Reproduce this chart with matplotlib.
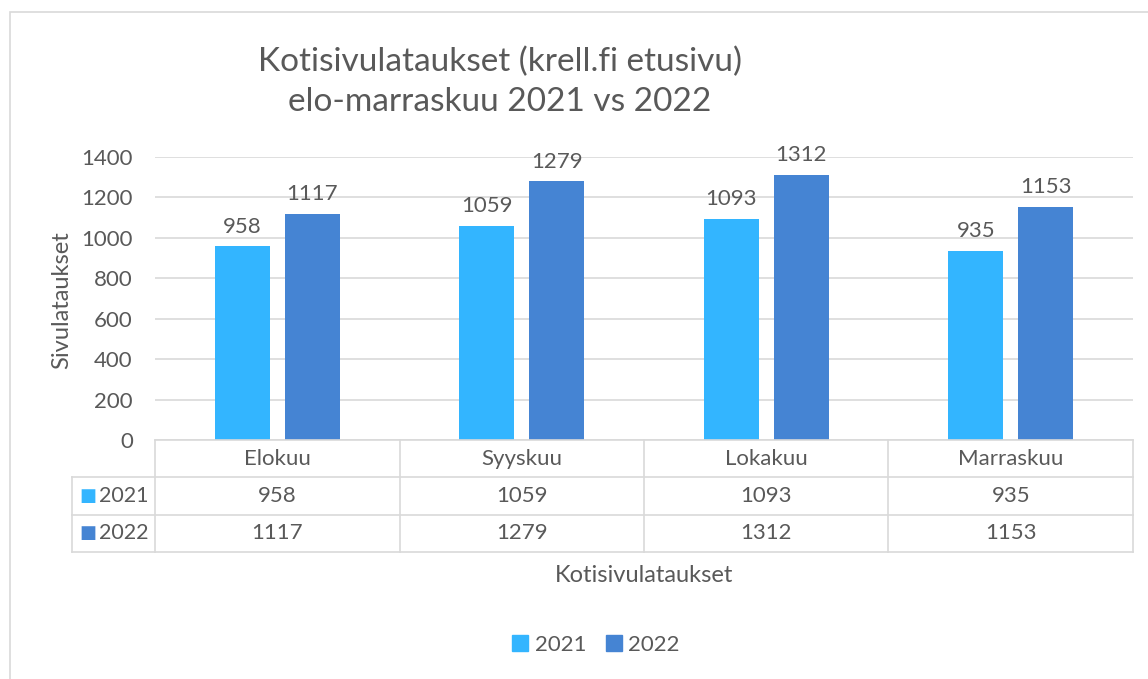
import matplotlib.pyplot as plt
from matplotlib.patches import Rectangle

plt.rcParams["font.family"] = ["Lato", "DejaVu Sans"]

months = ["Elokuu", "Syyskuu", "Lokakuu", "Marraskuu"]
years = ["2021", "2022"]
visits_2021 = [958, 1059, 1093, 935]
visits_2022 = [1117, 1279, 1312, 1153]
yticks = [0, 200, 400, 600, 800, 1000, 1200, 1400]

COLORS = ["#33B5FF", "#4584D3"]
TXT = "#595959"
GRID = "#D9D9D9"
FS = 16

W, H = 1148, 679
fig = plt.figure(figsize=(W / 100, H / 100), dpi=100)


def fx(px):
    return px / W


def fy(py):
    return 1 - py / H


# outer chart border (left and top only visible)
fig.patches.append(Rectangle((fx(10), fy(690)), fx(1160) - fx(10), fy(12) - fy(690),
                             transform=fig.transFigure, fill=False,
                             edgecolor=GRID, linewidth=1.2))

# main plot
L, R, T, B = 155, 1133, 157, 440
ax = fig.add_axes([fx(L), fy(B), fx(R) - fx(L), fy(T) - fy(B)])
n = len(months)
xs = list(range(n))
bw = 0.225
gap = 0.06
series = [visits_2021, visits_2022]
for i, vals in enumerate(series):
    off = (i - 0.5) * (bw + gap)
    bars = ax.bar([x + off for x in xs], vals, width=bw, color=COLORS[i], zorder=3)
    for b, v in zip(bars, vals):
        ax.annotate(str(v), (b.get_x() + b.get_width() / 2, v), xytext=(0, 7),
                    textcoords="offset points", ha="center", va="bottom",
                    fontsize=FS, color=TXT)

ax.set_xlim(-0.5, n - 0.5)
ax.set_ylim(0, 1400)
ax.set_yticks(yticks)
ax.set_yticklabels([str(t) for t in yticks], fontsize=FS, color=TXT)
ax.set_xticks([])
ax.tick_params(axis="y", length=0, pad=16)
for s in ax.spines.values():
    s.set_visible(False)
ax.grid(axis="y", color=GRID, linewidth=1.2, zorder=0)

fig.text(fx(62), fy(300), "Sivulataukset", rotation=90, ha="center", va="center",
         fontsize=17, color=TXT)
fig.text(fx(500), fy(82), "Kotisivulataukset (krell.fi etusivu)\nelo-marraskuu 2021 vs 2022",
         ha="center", va="center", fontsize=24, color=TXT, linespacing=1.4)

# data table under the plot
TL, TB = 72, 552
tax = fig.add_axes([fx(TL), fy(TB), fx(R) - fx(TL), fy(B) - fy(TB)])
per_px = n / (R - L)
x_left = -0.5 - (L - TL) * per_px
tax.set_xlim(x_left, n - 0.5)
tax.set_ylim(3, 0)
tax.axis("off")
lk = dict(color=GRID, linewidth=1.2, clip_on=False)
tax.plot([-0.5, n - 0.5], [0, 0], **lk)
for yv in (1, 2, 3):
    tax.plot([x_left, n - 0.5], [yv, yv], **lk)
tax.plot([x_left, x_left], [1, 3], **lk)
for k in range(n + 1):
    tax.plot([k - 0.5, k - 0.5], [0, 3], **lk)
for k, m in enumerate(months):
    tax.text(k, 0.5, m, ha="center", va="center", fontsize=FS, color=TXT)
    for r, vals in enumerate(series):
        tax.text(k, 1.5 + r, str(vals[k]), ha="center", va="center",
                 fontsize=FS, color=TXT)
for r, yr in enumerate(years):
    tax.text(x_left + 7 * per_px, 1.5 + r, "\u25A0", ha="left", va="center",
             fontsize=13, color=COLORS[r], family="DejaVu Sans")
    tax.text(x_left + 27 * per_px, 1.5 + r, yr, ha="left", va="center",
             fontsize=15.5, color=TXT)

fig.text(fx(644), fy(576), "Kotisivulataukset", ha="center", va="center",
         fontsize=17, color=TXT)

# legend
handles = [Rectangle((0, 0), 1, 1, color=c) for c in COLORS]
fig.legend(handles, years, loc="center", bbox_to_anchor=(fx(596), fy(645)),
           ncol=2, frameon=False, fontsize=FS, labelcolor=TXT,
           handlelength=0.7, handleheight=0.7, handletextpad=0.3,
           columnspacing=0.9)

fig.savefig("out.png", dpi=100)
